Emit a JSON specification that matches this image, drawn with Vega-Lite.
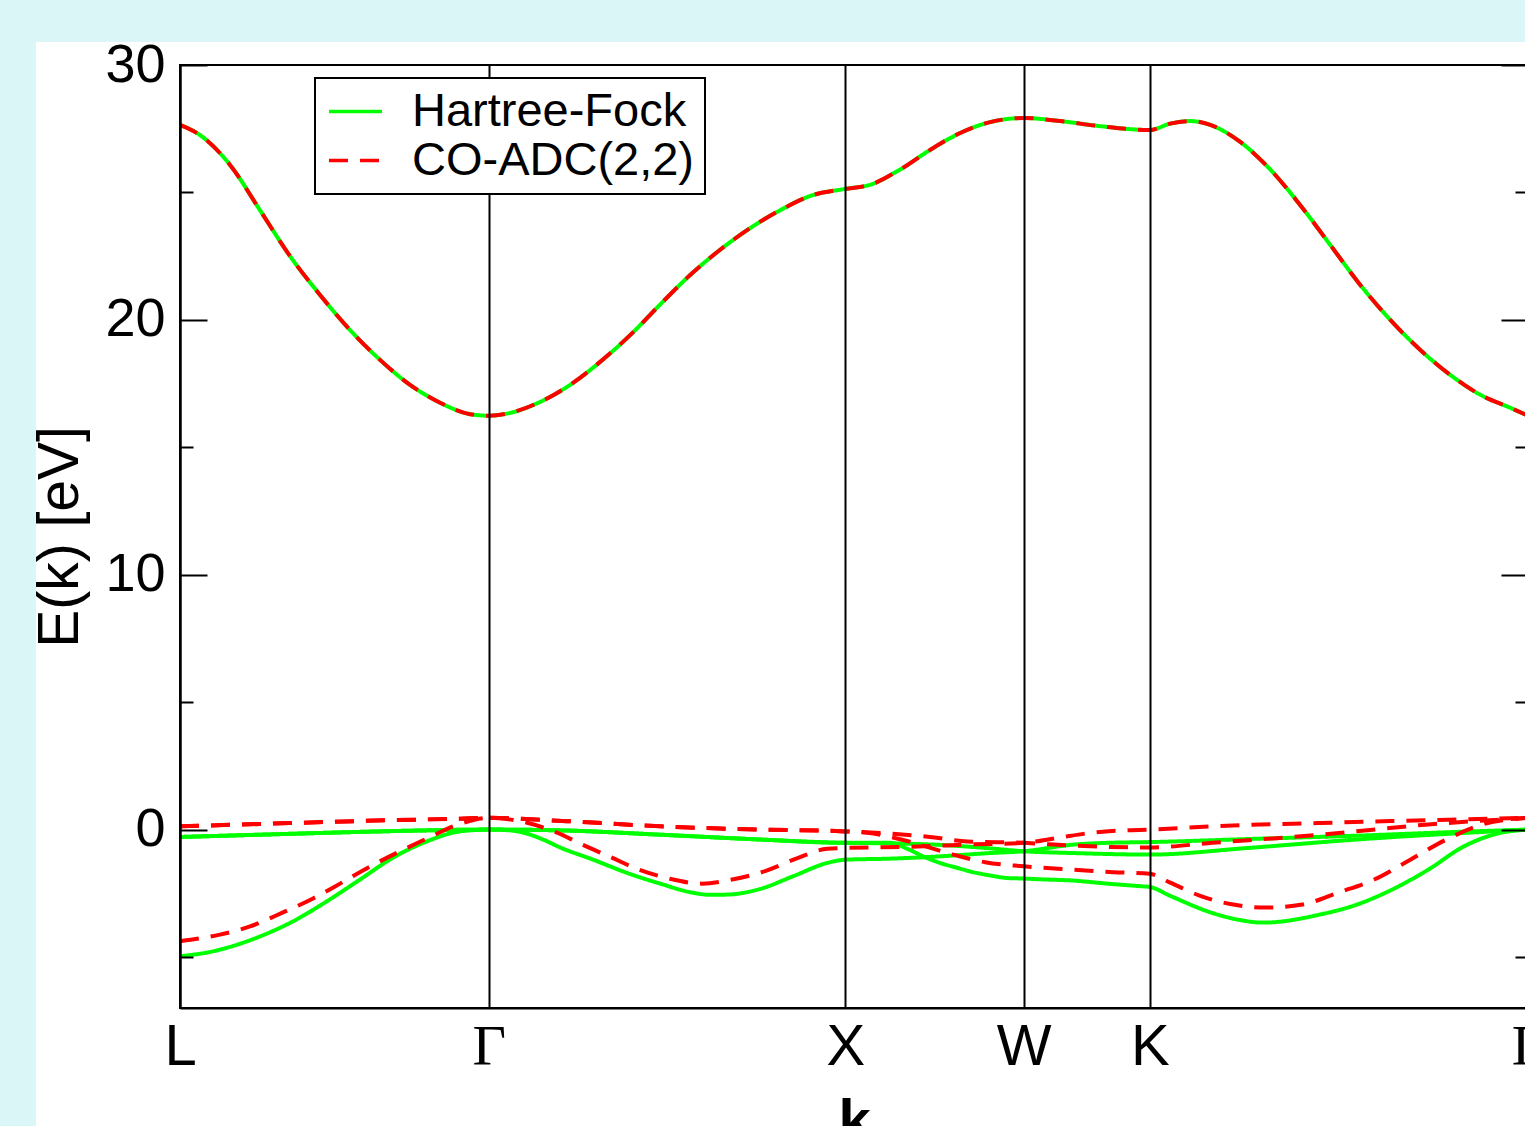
{
"$schema": "https://vega.github.io/schema/vega-lite/v6.json",
"autosize": {"type": "none"},
"padding": {"left": 180, "top": 65, "right": 0, "bottom": 118},
"width": 1348,
"height": 943,
"background": "#ffffff",
"config": {
  "view": {"stroke": "#000000", "strokeWidth": 2},
  "font": "Liberation Sans",
  "legend": {"orient": "none", "legendX": 135, "legendY": 13, "zindex": 3, "fillColor": "#ffffff", "strokeColor": "#000000", "strokeWidth": 2, "padding": 10, "symbolType": "M-2,0H2", "symbolSize": 702, "symbolOffset": 7, "symbolStrokeWidth": 3.5, "labelFontSize": 47, "labelFont": "Liberation Sans", "labelColor": "#000000", "labelOffset": 33, "rowPadding": 1, "title": null, "labelLimit": 0}
},
"datasets": {
"hf": [
{"m":"Hartree-Fock","b":"c","k":0,"E":27.65},{"m":"Hartree-Fock","b":"c","k":0.0561,"E":27.25},{"m":"Hartree-Fock","b":"c","k":0.1403,"E":26.08},{"m":"Hartree-Fock","b":"c","k":0.2244,"E":24.3},{"m":"Hartree-Fock","b":"c","k":0.3086,"E":22.5},{"m":"Hartree-Fock","b":"c","k":0.3927,"E":20.98},{"m":"Hartree-Fock","b":"c","k":0.4769,"E":19.6},{"m":"Hartree-Fock","b":"c","k":0.561,"E":18.43},{"m":"Hartree-Fock","b":"c","k":0.6452,"E":17.45},{"m":"Hartree-Fock","b":"c","k":0.7293,"E":16.75},{"m":"Hartree-Fock","b":"c","k":0.8135,"E":16.3},{"m":"Hartree-Fock","b":"c","k":0.866,"E":16.24},{"m":"Hartree-Fock","b":"c","k":0.9257,"E":16.35},{"m":"Hartree-Fock","b":"c","k":1.0098,"E":16.78},{"m":"Hartree-Fock","b":"c","k":1.094,"E":17.45},{"m":"Hartree-Fock","b":"c","k":1.1781,"E":18.35},{"m":"Hartree-Fock","b":"c","k":1.2623,"E":19.4},{"m":"Hartree-Fock","b":"c","k":1.3464,"E":20.6},{"m":"Hartree-Fock","b":"c","k":1.4306,"E":21.76},{"m":"Hartree-Fock","b":"c","k":1.5147,"E":22.75},{"m":"Hartree-Fock","b":"c","k":1.5989,"E":23.6},{"m":"Hartree-Fock","b":"c","k":1.683,"E":24.3},{"m":"Hartree-Fock","b":"c","k":1.7672,"E":24.86},{"m":"Hartree-Fock","b":"c","k":1.866,"E":25.14},{"m":"Hartree-Fock","b":"c","k":1.9355,"E":25.3},{"m":"Hartree-Fock","b":"c","k":2.0196,"E":25.9},{"m":"Hartree-Fock","b":"c","k":2.1038,"E":26.67},{"m":"Hartree-Fock","b":"c","k":2.1879,"E":27.33},{"m":"Hartree-Fock","b":"c","k":2.2721,"E":27.76},{"m":"Hartree-Fock","b":"c","k":2.366,"E":27.92},{"m":"Hartree-Fock","b":"c","k":2.4684,"E":27.8},{"m":"Hartree-Fock","b":"c","k":2.5806,"E":27.6},{"m":"Hartree-Fock","b":"c","k":2.7196,"E":27.45},{"m":"Hartree-Fock","b":"c","k":2.777,"E":27.7},{"m":"Hartree-Fock","b":"c","k":2.8331,"E":27.8},{"m":"Hartree-Fock","b":"c","k":2.8892,"E":27.65},{"m":"Hartree-Fock","b":"c","k":2.9734,"E":26.98},{"m":"Hartree-Fock","b":"c","k":3.0575,"E":25.9},{"m":"Hartree-Fock","b":"c","k":3.1417,"E":24.5},{"m":"Hartree-Fock","b":"c","k":3.2258,"E":22.94},{"m":"Hartree-Fock","b":"c","k":3.31,"E":21.37},{"m":"Hartree-Fock","b":"c","k":3.3941,"E":20.0},{"m":"Hartree-Fock","b":"c","k":3.4783,"E":18.82},{"m":"Hartree-Fock","b":"c","k":3.5624,"E":17.84},{"m":"Hartree-Fock","b":"c","k":3.6466,"E":17.06},{"m":"Hartree-Fock","b":"c","k":3.7307,"E":16.55},{"m":"Hartree-Fock","b":"c","k":3.7803,"E":16.24},
{"m":"Hartree-Fock","b":"1","k":0,"E":-0.29},{"m":"Hartree-Fock","b":"1","k":0.2244,"E":-0.2},{"m":"Hartree-Fock","b":"1","k":0.5049,"E":-0.09},{"m":"Hartree-Fock","b":"1","k":0.6928,"E":-0.03},{"m":"Hartree-Fock","b":"1","k":0.866,"E":0},{"m":"Hartree-Fock","b":"1","k":1.0659,"E":-0.03},{"m":"Hartree-Fock","b":"1","k":1.3464,"E":-0.2},{"m":"Hartree-Fock","b":"1","k":1.6269,"E":-0.39},{"m":"Hartree-Fock","b":"1","k":1.866,"E":-0.52},{"m":"Hartree-Fock","b":"1","k":1.9916,"E":-0.54},{"m":"Hartree-Fock","b":"1","k":2.1318,"E":-0.6},{"m":"Hartree-Fock","b":"1","k":2.2581,"E":-0.72},{"m":"Hartree-Fock","b":"1","k":2.366,"E":-0.85},{"m":"Hartree-Fock","b":"1","k":2.5049,"E":-0.92},{"m":"Hartree-Fock","b":"1","k":2.7196,"E":-0.98},{"m":"Hartree-Fock","b":"1","k":2.9958,"E":-0.72},{"m":"Hartree-Fock","b":"1","k":3.2987,"E":-0.39},{"m":"Hartree-Fock","b":"1","k":3.6017,"E":-0.13},{"m":"Hartree-Fock","b":"1","k":3.7803,"E":0},
{"m":"Hartree-Fock","b":"2","k":0,"E":-0.29},{"m":"Hartree-Fock","b":"2","k":0.2244,"E":-0.2},{"m":"Hartree-Fock","b":"2","k":0.5049,"E":-0.09},{"m":"Hartree-Fock","b":"2","k":0.6928,"E":-0.03},{"m":"Hartree-Fock","b":"2","k":0.866,"E":0},{"m":"Hartree-Fock","b":"2","k":1.0659,"E":-0.03},{"m":"Hartree-Fock","b":"2","k":1.3464,"E":-0.2},{"m":"Hartree-Fock","b":"2","k":1.6269,"E":-0.39},{"m":"Hartree-Fock","b":"2","k":1.866,"E":-0.52},{"m":"Hartree-Fock","b":"2","k":1.9916,"E":-0.52},{"m":"Hartree-Fock","b":"2","k":2.0393,"E":-0.75},{"m":"Hartree-Fock","b":"2","k":2.0842,"E":-1.05},{"m":"Hartree-Fock","b":"2","k":2.1318,"E":-1.31},{"m":"Hartree-Fock","b":"2","k":2.1795,"E":-1.5},{"m":"Hartree-Fock","b":"2","k":2.2244,"E":-1.67},{"m":"Hartree-Fock","b":"2","k":2.2721,"E":-1.8},{"m":"Hartree-Fock","b":"2","k":2.3198,"E":-1.9},{"m":"Hartree-Fock","b":"2","k":2.366,"E":-1.92},{"m":"Hartree-Fock","b":"2","k":2.4123,"E":-1.95},{"m":"Hartree-Fock","b":"2","k":2.5049,"E":-2.0},{"m":"Hartree-Fock","b":"2","k":2.6003,"E":-2.12},{"m":"Hartree-Fock","b":"2","k":2.6928,"E":-2.22},{"m":"Hartree-Fock","b":"2","k":2.7196,"E":-2.25},{"m":"Hartree-Fock","b":"2","k":2.777,"E":-2.6},{"m":"Hartree-Fock","b":"2","k":2.8948,"E":-3.27},{"m":"Hartree-Fock","b":"2","k":2.9734,"E":-3.55},{"m":"Hartree-Fock","b":"2","k":3.0379,"E":-3.65},{"m":"Hartree-Fock","b":"2","k":3.1978,"E":-3.33},{"m":"Hartree-Fock","b":"2","k":3.2987,"E":-2.95},{"m":"Hartree-Fock","b":"2","k":3.3997,"E":-2.35},{"m":"Hartree-Fock","b":"2","k":3.5007,"E":-1.57},{"m":"Hartree-Fock","b":"2","k":3.6017,"E":-0.65},{"m":"Hartree-Fock","b":"2","k":3.7027,"E":-0.13},{"m":"Hartree-Fock","b":"2","k":3.7803,"E":0},
{"m":"Hartree-Fock","b":"3","k":0,"E":-4.97},{"m":"Hartree-Fock","b":"3","k":0.0842,"E":-4.8},{"m":"Hartree-Fock","b":"3","k":0.2244,"E":-4.19},{"m":"Hartree-Fock","b":"3","k":0.317,"E":-3.6},{"m":"Hartree-Fock","b":"3","k":0.4123,"E":-2.81},{"m":"Hartree-Fock","b":"3","k":0.5049,"E":-1.96},{"m":"Hartree-Fock","b":"3","k":0.5975,"E":-1.1},{"m":"Hartree-Fock","b":"3","k":0.6928,"E":-0.46},{"m":"Hartree-Fock","b":"3","k":0.7854,"E":-0.07},{"m":"Hartree-Fock","b":"3","k":0.866,"E":0},{"m":"Hartree-Fock","b":"3","k":0.9257,"E":-0.03},{"m":"Hartree-Fock","b":"3","k":0.9734,"E":-0.16},{"m":"Hartree-Fock","b":"3","k":1.0182,"E":-0.39},{"m":"Hartree-Fock","b":"3","k":1.0659,"E":-0.7},{"m":"Hartree-Fock","b":"3","k":1.1585,"E":-1.18},{"m":"Hartree-Fock","b":"3","k":1.2539,"E":-1.7},{"m":"Hartree-Fock","b":"3","k":1.3464,"E":-2.12},{"m":"Hartree-Fock","b":"3","k":1.439,"E":-2.48},{"m":"Hartree-Fock","b":"3","k":1.4867,"E":-2.56},{"m":"Hartree-Fock","b":"3","k":1.5344,"E":-2.55},{"m":"Hartree-Fock","b":"3","k":1.6269,"E":-2.33},{"m":"Hartree-Fock","b":"3","k":1.7195,"E":-1.83},{"m":"Hartree-Fock","b":"3","k":1.8149,"E":-1.31},{"m":"Hartree-Fock","b":"3","k":1.866,"E":-1.18},{"m":"Hartree-Fock","b":"3","k":1.9916,"E":-1.14},{"m":"Hartree-Fock","b":"3","k":2.1318,"E":-1.05},{"m":"Hartree-Fock","b":"3","k":2.2721,"E":-0.92},{"m":"Hartree-Fock","b":"3","k":2.366,"E":-0.85},{"m":"Hartree-Fock","b":"3","k":2.5049,"E":-0.59},{"m":"Hartree-Fock","b":"3","k":2.6003,"E":-0.52},{"m":"Hartree-Fock","b":"3","k":2.7196,"E":-0.49},{"m":"Hartree-Fock","b":"3","k":2.9958,"E":-0.37},{"m":"Hartree-Fock","b":"3","k":3.2987,"E":-0.24},{"m":"Hartree-Fock","b":"3","k":3.6017,"E":-0.08},{"m":"Hartree-Fock","b":"3","k":3.7803,"E":0}
],
"adc": [
{"m":"CO-ADC(2,2)","b":"c","k":0,"E":27.65},{"m":"CO-ADC(2,2)","b":"c","k":0.0561,"E":27.25},{"m":"CO-ADC(2,2)","b":"c","k":0.1403,"E":26.08},{"m":"CO-ADC(2,2)","b":"c","k":0.2244,"E":24.3},{"m":"CO-ADC(2,2)","b":"c","k":0.3086,"E":22.5},{"m":"CO-ADC(2,2)","b":"c","k":0.3927,"E":20.98},{"m":"CO-ADC(2,2)","b":"c","k":0.4769,"E":19.6},{"m":"CO-ADC(2,2)","b":"c","k":0.561,"E":18.43},{"m":"CO-ADC(2,2)","b":"c","k":0.6452,"E":17.45},{"m":"CO-ADC(2,2)","b":"c","k":0.7293,"E":16.75},{"m":"CO-ADC(2,2)","b":"c","k":0.8135,"E":16.3},{"m":"CO-ADC(2,2)","b":"c","k":0.866,"E":16.24},{"m":"CO-ADC(2,2)","b":"c","k":0.9257,"E":16.35},{"m":"CO-ADC(2,2)","b":"c","k":1.0098,"E":16.78},{"m":"CO-ADC(2,2)","b":"c","k":1.094,"E":17.45},{"m":"CO-ADC(2,2)","b":"c","k":1.1781,"E":18.35},{"m":"CO-ADC(2,2)","b":"c","k":1.2623,"E":19.4},{"m":"CO-ADC(2,2)","b":"c","k":1.3464,"E":20.6},{"m":"CO-ADC(2,2)","b":"c","k":1.4306,"E":21.76},{"m":"CO-ADC(2,2)","b":"c","k":1.5147,"E":22.75},{"m":"CO-ADC(2,2)","b":"c","k":1.5989,"E":23.6},{"m":"CO-ADC(2,2)","b":"c","k":1.683,"E":24.3},{"m":"CO-ADC(2,2)","b":"c","k":1.7672,"E":24.86},{"m":"CO-ADC(2,2)","b":"c","k":1.866,"E":25.14},{"m":"CO-ADC(2,2)","b":"c","k":1.9355,"E":25.3},{"m":"CO-ADC(2,2)","b":"c","k":2.0196,"E":25.9},{"m":"CO-ADC(2,2)","b":"c","k":2.1038,"E":26.67},{"m":"CO-ADC(2,2)","b":"c","k":2.1879,"E":27.33},{"m":"CO-ADC(2,2)","b":"c","k":2.2721,"E":27.76},{"m":"CO-ADC(2,2)","b":"c","k":2.366,"E":27.92},{"m":"CO-ADC(2,2)","b":"c","k":2.4684,"E":27.8},{"m":"CO-ADC(2,2)","b":"c","k":2.5806,"E":27.6},{"m":"CO-ADC(2,2)","b":"c","k":2.7196,"E":27.45},{"m":"CO-ADC(2,2)","b":"c","k":2.777,"E":27.7},{"m":"CO-ADC(2,2)","b":"c","k":2.8331,"E":27.8},{"m":"CO-ADC(2,2)","b":"c","k":2.8892,"E":27.65},{"m":"CO-ADC(2,2)","b":"c","k":2.9734,"E":26.98},{"m":"CO-ADC(2,2)","b":"c","k":3.0575,"E":25.9},{"m":"CO-ADC(2,2)","b":"c","k":3.1417,"E":24.5},{"m":"CO-ADC(2,2)","b":"c","k":3.2258,"E":22.94},{"m":"CO-ADC(2,2)","b":"c","k":3.31,"E":21.37},{"m":"CO-ADC(2,2)","b":"c","k":3.3941,"E":20.0},{"m":"CO-ADC(2,2)","b":"c","k":3.4783,"E":18.82},{"m":"CO-ADC(2,2)","b":"c","k":3.5624,"E":17.84},{"m":"CO-ADC(2,2)","b":"c","k":3.6466,"E":17.06},{"m":"CO-ADC(2,2)","b":"c","k":3.7307,"E":16.55},{"m":"CO-ADC(2,2)","b":"c","k":3.7803,"E":16.24},
{"m":"CO-ADC(2,2)","b":"1","k":0,"E":0.13},{"m":"CO-ADC(2,2)","b":"1","k":0.2244,"E":0.22},{"m":"CO-ADC(2,2)","b":"1","k":0.4123,"E":0.3},{"m":"CO-ADC(2,2)","b":"1","k":0.5975,"E":0.37},{"m":"CO-ADC(2,2)","b":"1","k":0.7854,"E":0.43},{"m":"CO-ADC(2,2)","b":"1","k":0.866,"E":0.46},{"m":"CO-ADC(2,2)","b":"1","k":1.0856,"E":0.33},{"m":"CO-ADC(2,2)","b":"1","k":1.3464,"E":0.13},{"m":"CO-ADC(2,2)","b":"1","k":1.6269,"E":0},{"m":"CO-ADC(2,2)","b":"1","k":1.866,"E":-0.07},{"m":"CO-ADC(2,2)","b":"1","k":2.1094,"E":-0.3},{"m":"CO-ADC(2,2)","b":"1","k":2.2076,"E":-0.47},{"m":"CO-ADC(2,2)","b":"1","k":2.366,"E":-0.52},{"m":"CO-ADC(2,2)","b":"1","k":2.5049,"E":-0.63},{"m":"CO-ADC(2,2)","b":"1","k":2.7196,"E":-0.7},{"m":"CO-ADC(2,2)","b":"1","k":2.8948,"E":-0.52},{"m":"CO-ADC(2,2)","b":"1","k":3.1978,"E":-0.2},{"m":"CO-ADC(2,2)","b":"1","k":3.5007,"E":0.2},{"m":"CO-ADC(2,2)","b":"1","k":3.7803,"E":0.46},
{"m":"CO-ADC(2,2)","b":"2","k":0,"E":0.13},{"m":"CO-ADC(2,2)","b":"2","k":0.2244,"E":0.22},{"m":"CO-ADC(2,2)","b":"2","k":0.4123,"E":0.3},{"m":"CO-ADC(2,2)","b":"2","k":0.5975,"E":0.37},{"m":"CO-ADC(2,2)","b":"2","k":0.7854,"E":0.43},{"m":"CO-ADC(2,2)","b":"2","k":0.866,"E":0.46},{"m":"CO-ADC(2,2)","b":"2","k":1.0856,"E":0.33},{"m":"CO-ADC(2,2)","b":"2","k":1.3464,"E":0.13},{"m":"CO-ADC(2,2)","b":"2","k":1.6269,"E":0},{"m":"CO-ADC(2,2)","b":"2","k":1.866,"E":-0.07},{"m":"CO-ADC(2,2)","b":"2","k":1.9271,"E":-0.12},{"m":"CO-ADC(2,2)","b":"2","k":2.0252,"E":-0.4},{"m":"CO-ADC(2,2)","b":"2","k":2.1683,"E":-0.98},{"m":"CO-ADC(2,2)","b":"2","k":2.2581,"E":-1.28},{"m":"CO-ADC(2,2)","b":"2","k":2.366,"E":-1.44},{"m":"CO-ADC(2,2)","b":"2","k":2.5049,"E":-1.57},{"m":"CO-ADC(2,2)","b":"2","k":2.6171,"E":-1.67},{"m":"CO-ADC(2,2)","b":"2","k":2.7196,"E":-1.73},{"m":"CO-ADC(2,2)","b":"2","k":2.777,"E":-2.08},{"m":"CO-ADC(2,2)","b":"2","k":2.8612,"E":-2.6},{"m":"CO-ADC(2,2)","b":"2","k":2.9453,"E":-2.92},{"m":"CO-ADC(2,2)","b":"2","k":3.0463,"E":-3.06},{"m":"CO-ADC(2,2)","b":"2","k":3.1473,"E":-2.94},{"m":"CO-ADC(2,2)","b":"2","k":3.2482,"E":-2.47},{"m":"CO-ADC(2,2)","b":"2","k":3.3492,"E":-1.96},{"m":"CO-ADC(2,2)","b":"2","k":3.4502,"E":-1.18},{"m":"CO-ADC(2,2)","b":"2","k":3.5512,"E":-0.39},{"m":"CO-ADC(2,2)","b":"2","k":3.6522,"E":0.2},{"m":"CO-ADC(2,2)","b":"2","k":3.7803,"E":0.46},
{"m":"CO-ADC(2,2)","b":"3","k":0,"E":-4.38},{"m":"CO-ADC(2,2)","b":"3","k":0.1122,"E":-4.12},{"m":"CO-ADC(2,2)","b":"3","k":0.1964,"E":-3.8},{"m":"CO-ADC(2,2)","b":"3","k":0.2889,"E":-3.25},{"m":"CO-ADC(2,2)","b":"3","k":0.3731,"E":-2.7},{"m":"CO-ADC(2,2)","b":"3","k":0.4488,"E":-2.12},{"m":"CO-ADC(2,2)","b":"3","k":0.533,"E":-1.45},{"m":"CO-ADC(2,2)","b":"3","k":0.6171,"E":-0.85},{"m":"CO-ADC(2,2)","b":"3","k":0.6928,"E":-0.35},{"m":"CO-ADC(2,2)","b":"3","k":0.7798,"E":0.2},{"m":"CO-ADC(2,2)","b":"3","k":0.866,"E":0.46},{"m":"CO-ADC(2,2)","b":"3","k":0.9734,"E":0.27},{"m":"CO-ADC(2,2)","b":"3","k":1.0575,"E":-0.12},{"m":"CO-ADC(2,2)","b":"3","k":1.122,"E":-0.55},{"m":"CO-ADC(2,2)","b":"3","k":1.2062,"E":-1.07},{"m":"CO-ADC(2,2)","b":"3","k":1.2875,"E":-1.57},{"m":"CO-ADC(2,2)","b":"3","k":1.3717,"E":-1.92},{"m":"CO-ADC(2,2)","b":"3","k":1.4642,"E":-2.12},{"m":"CO-ADC(2,2)","b":"3","k":1.5484,"E":-1.96},{"m":"CO-ADC(2,2)","b":"3","k":1.641,"E":-1.63},{"m":"CO-ADC(2,2)","b":"3","k":1.7335,"E":-1.11},{"m":"CO-ADC(2,2)","b":"3","k":1.8149,"E":-0.75},{"m":"CO-ADC(2,2)","b":"3","k":1.866,"E":-0.72},{"m":"CO-ADC(2,2)","b":"3","k":2.0393,"E":-0.68},{"m":"CO-ADC(2,2)","b":"3","k":2.2244,"E":-0.58},{"m":"CO-ADC(2,2)","b":"3","k":2.366,"E":-0.52},{"m":"CO-ADC(2,2)","b":"3","k":2.46,"E":-0.33},{"m":"CO-ADC(2,2)","b":"3","k":2.5526,"E":-0.13},{"m":"CO-ADC(2,2)","b":"3","k":2.6452,"E":-0.03},{"m":"CO-ADC(2,2)","b":"3","k":2.7196,"E":0},{"m":"CO-ADC(2,2)","b":"3","k":2.8948,"E":0.13},{"m":"CO-ADC(2,2)","b":"3","k":3.1978,"E":0.26},{"m":"CO-ADC(2,2)","b":"3","k":3.5007,"E":0.37},{"m":"CO-ADC(2,2)","b":"3","k":3.7803,"E":0.46}
]
},
"resolve": {"scale": {"y": "independent"}, "axis": {"y": "independent"}},
"layer": [
  {
    "data": {"values": [{"strip": "top"}]},
    "mark": {"type": "rect", "fill": "#dbf6f6", "clip": false},
    "encoding": {
      "x": {"datum": -1, "type": "quantitative", "scale": {"domain": [0, 3.7803], "nice": false, "zero": false}},
      "x2": {"datum": 5},
      "y": {"datum": 30.9, "type": "quantitative", "scale": {"domain": [-7, 30], "nice": false, "zero": false}, "axis": null},
      "y2": {"datum": 34}
    }
  },
  {
    "data": {"values": [{"strip": "left"}]},
    "mark": {"type": "rect", "fill": "#dbf6f6", "clip": false},
    "encoding": {
      "x": {"datum": -1, "type": "quantitative", "scale": {"domain": [0, 3.7803], "nice": false, "zero": false}},
      "x2": {"datum": -0.404},
      "y": {"datum": 34, "type": "quantitative", "scale": {"domain": [-7, 30], "nice": false, "zero": false}, "axis": null},
      "y2": {"datum": -20}
    }
  },
  {
    "data": {"name": "hf"},
    "mark": {"type": "line", "interpolate": "monotone", "strokeWidth": 4},
    "encoding": {
      "x": {"field": "k", "type": "quantitative", "scale": {"domain": [0, 3.7803], "nice": false, "zero": false},
        "axis": {"values": [0, 0.866, 1.866, 2.366, 2.7196, 3.7803], "labelExpr": "datum.value < 0.4 ? 'L' : datum.value < 1 ? 'Γ' : datum.value < 2 ? 'X' : datum.value < 2.5 ? 'W' : datum.value < 3 ? 'K' : 'Γ'",
          "labelFont": {"condition": {"test": "(datum.value > 0.5 && datum.value < 1) || datum.value > 3", "value": "Liberation Serif"}, "value": "Liberation Sans"},
          "labelFontSize": 58, "labelColor": "#000000", "labelPadding": 10, "labelFlush": false, "labelOverlap": false, "labelBound": false,
          "ticks": false, "domain": true, "domainColor": "#000000", "domainWidth": 2,
          "grid": true, "gridColor": "#000000", "gridWidth": 2, "gridOpacity": 1,
          "title": "k", "titleFontSize": 58, "titleFontWeight": "bold", "titleColor": "#000000", "titlePadding": 17, "zindex": 1}},
      "y": {"field": "E", "type": "quantitative", "scale": {"domain": [-7, 30], "nice": false, "zero": false},
        "axis": {"orient": "left", "values": [-5, 0, 5, 10, 15, 20, 25, 30], "labelExpr": "datum.value % 10 === 0 ? datum.label : ''",
          "labelFontSize": 54, "labelColor": "#000000", "labelPadding": 42, "labelFlush": false, "labelOverlap": false, "labelBound": false,
          "tickSize": {"condition": {"test": "datum.value % 10 === 0", "value": -27}, "value": -13}, "tickColor": "#000000", "tickWidth": 2,
          "domain": true, "domainColor": "#000000", "domainWidth": 2, "grid": false,
          "title": "E(k) [eV]", "titleFontSize": 57, "titleFontWeight": "normal", "titleColor": "#000000", "titlePadding": 15, "zindex": 1}},
      "color": {"field": "m", "type": "nominal", "scale": {"domain": ["Hartree-Fock", "CO-ADC(2,2)"], "range": ["#00ff00", "#ff0000"]}},
      "strokeDash": {"field": "m", "type": "nominal", "scale": {"domain": ["Hartree-Fock", "CO-ADC(2,2)"], "range": [[1, 0], [19, 12]]}},
      "detail": {"field": "b"}
    }
  },
  {
    "data": {"name": "adc"},
    "mark": {"type": "line", "interpolate": "monotone", "strokeWidth": 4},
    "encoding": {
      "x": {"field": "k", "type": "quantitative", "scale": {"domain": [0, 3.7803], "nice": false, "zero": false}},
      "y": {"field": "E", "type": "quantitative", "scale": {"domain": [-7, 30], "nice": false, "zero": false},
        "axis": {"orient": "right", "values": [-5, 0, 5, 10, 15, 20, 25, 30], "labels": false,
          "tickSize": {"condition": {"test": "datum.value % 10 === 0", "value": -27}, "value": -13}, "tickColor": "#000000", "tickWidth": 2,
          "domain": false, "grid": false, "title": null, "zindex": 1}},
      "color": {"field": "m", "type": "nominal", "scale": {"domain": ["Hartree-Fock", "CO-ADC(2,2)"], "range": ["#00ff00", "#ff0000"]}},
      "strokeDash": {"field": "m", "type": "nominal", "scale": {"domain": ["Hartree-Fock", "CO-ADC(2,2)"], "range": [[1, 0], [19, 12]]}},
      "detail": {"field": "b"}
    }
  }
]
}
